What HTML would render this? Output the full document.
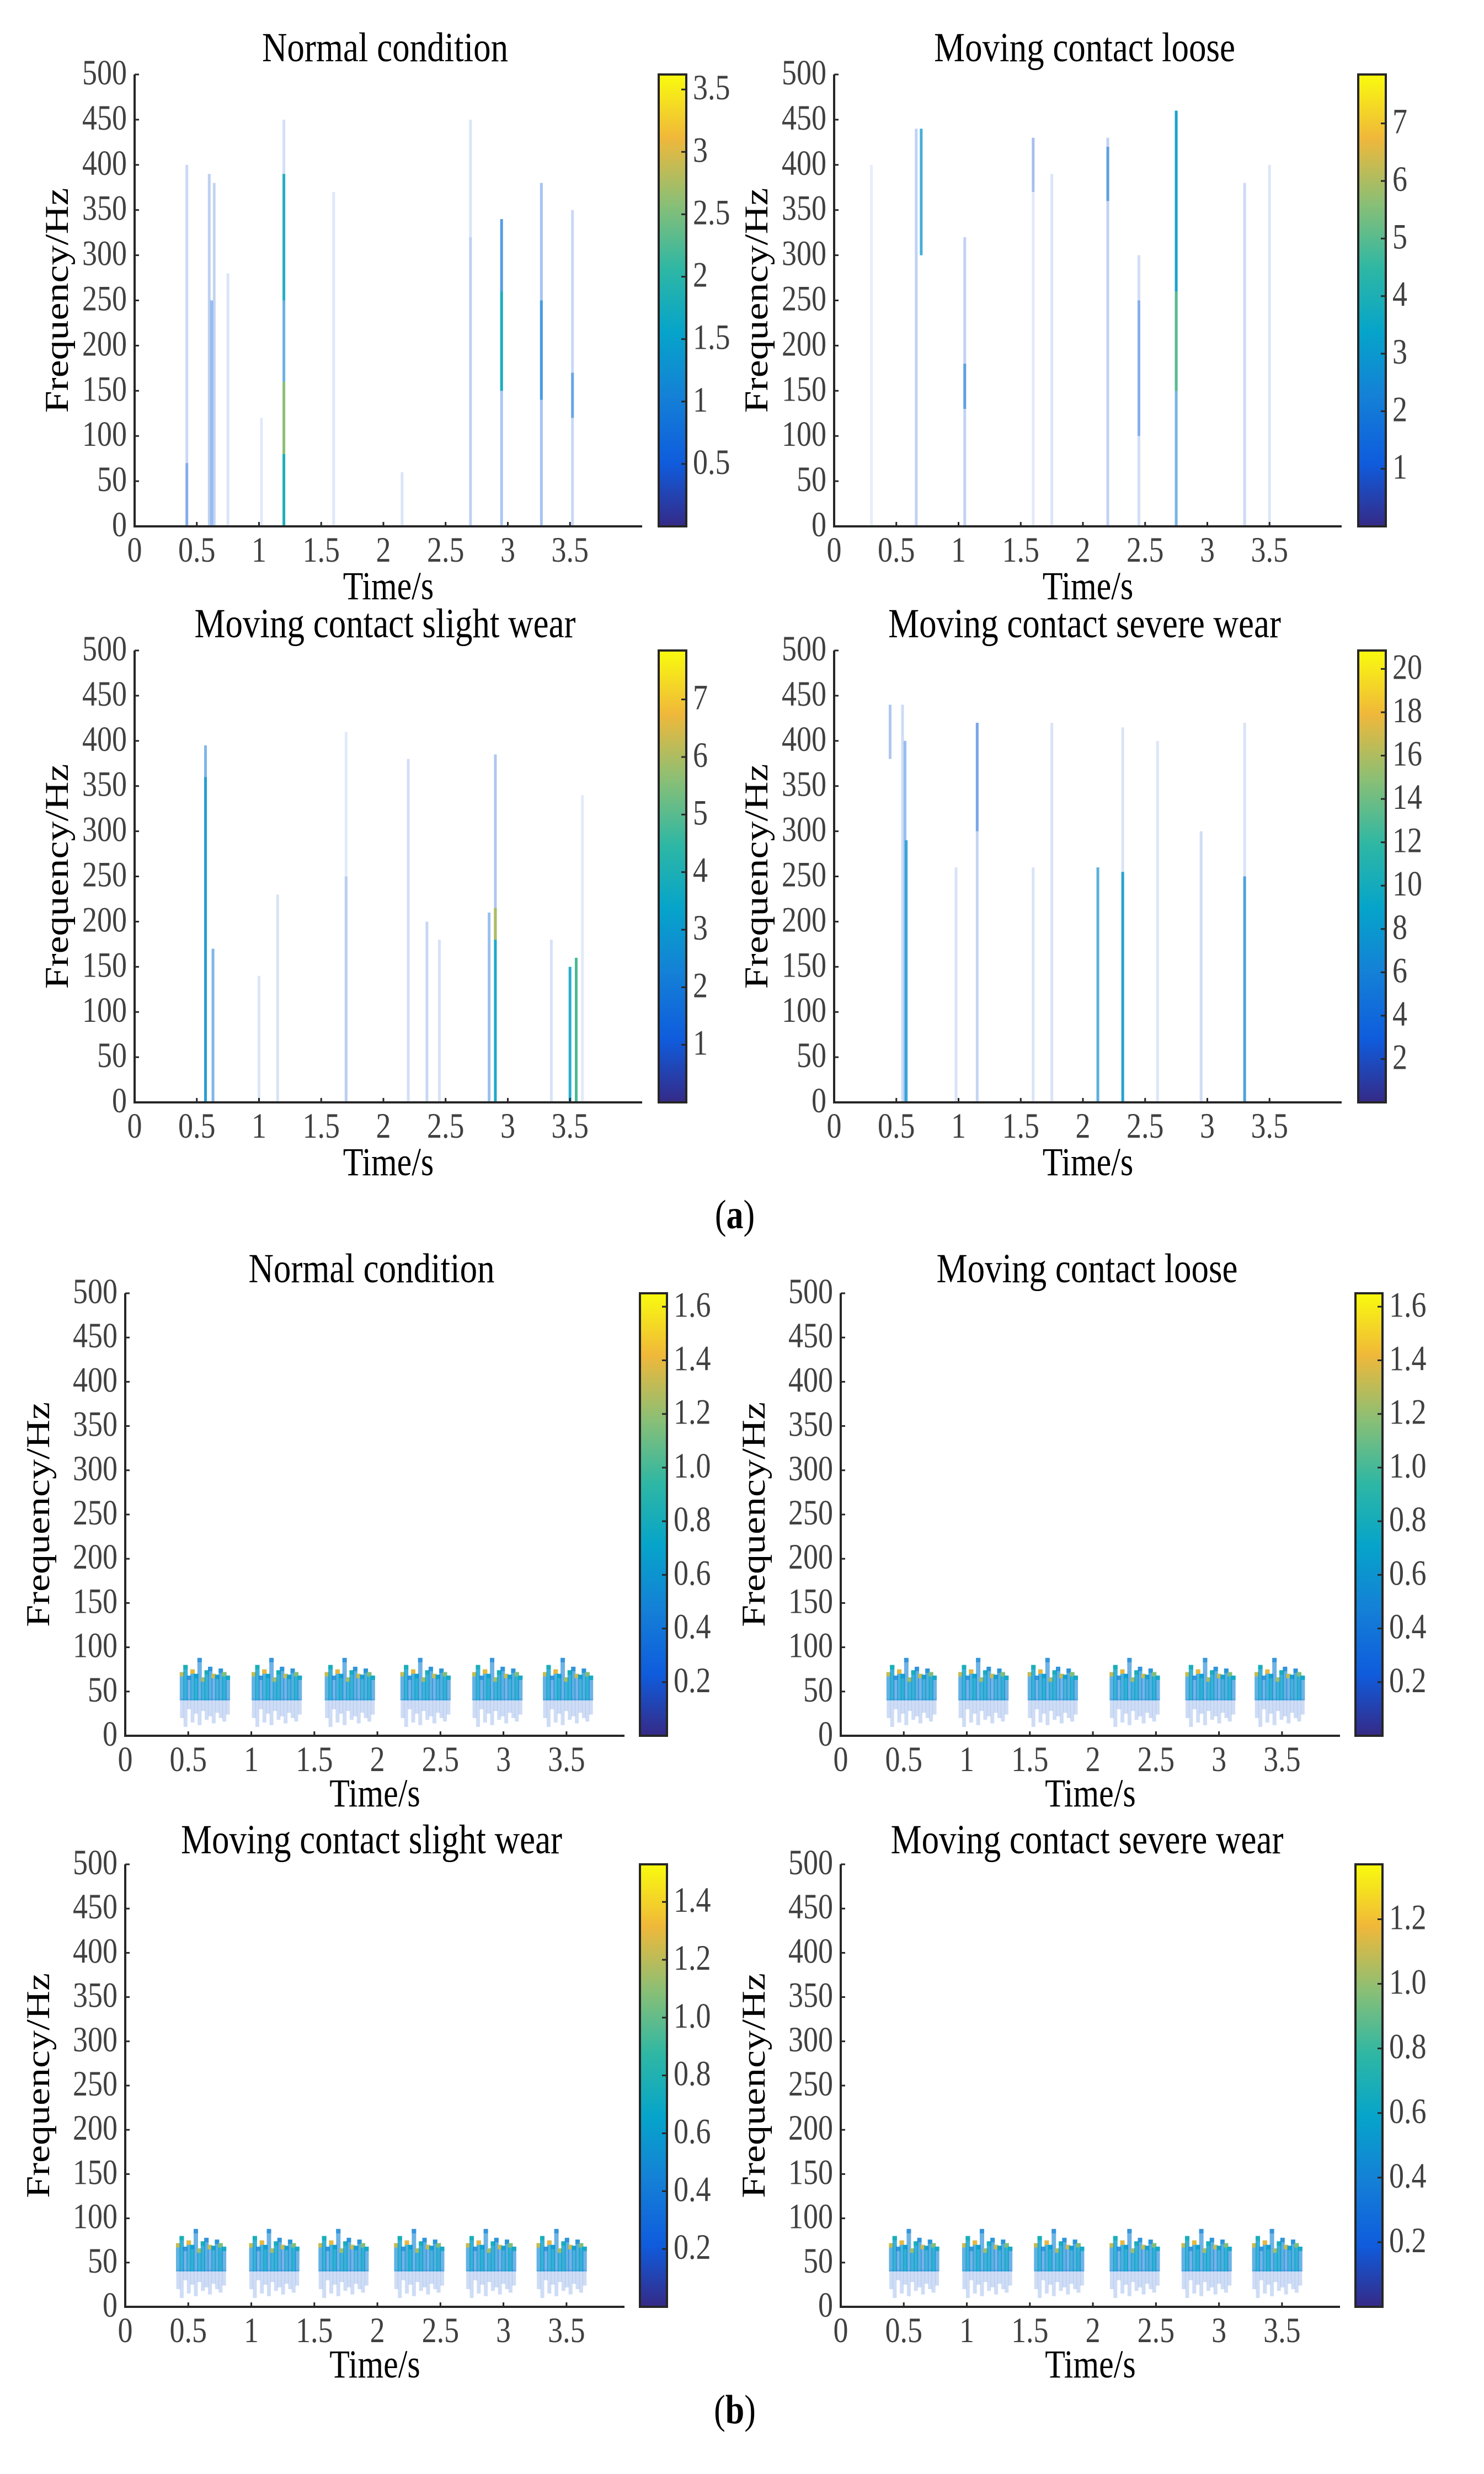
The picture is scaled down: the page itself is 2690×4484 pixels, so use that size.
<!DOCTYPE html>
<html><head><meta charset="utf-8">
<style>
html,body{margin:0;padding:0;background:#fff;}
svg{display:block;}
text{font-family:"Liberation Serif",serif;}
</style></head>
<body>
<svg id="fig" xmlns="http://www.w3.org/2000/svg" width="2690" height="4484" viewBox="0 0 2690 4484">
<defs>
<linearGradient id="parula" x1="0" y1="1" x2="0" y2="0">
<stop offset="0" stop-color="#352A87"/><stop offset="0.14" stop-color="#0F5CDD"/><stop offset="0.29" stop-color="#1481D6"/><stop offset="0.43" stop-color="#06A4CA"/><stop offset="0.57" stop-color="#2EB7A4"/><stop offset="0.71" stop-color="#87BF77"/><stop offset="0.86" stop-color="#F0B83A"/><stop offset="1" stop-color="#F9FB0E"/>
</linearGradient>
</defs>
</svg>
<script>
// ---------- data ----------
const panelTitles = ["Normal condition","Moving contact loose","Moving contact slight wear","Moving contact severe wear","Normal condition","Moving contact loose","Moving contact slight wear","Moving contact severe wear"];
const yTicks = [0,50,100,150,200,250,300,350,400,450,500];
const xTicks = [0,0.5,1,1.5,2,2.5,3,3.5];
const xTickLabels = ["0","0.5","1","1.5","2","2.5","3","3.5"];
const cbMax = [3.62,7.85,7.85,20.85,1.65,1.65,1.53,1.37];
const cbTicksA1 = [0.5,1,1.5,2,2.5,3,3.5];
const cbLabelsA1 = ["0.5","1","1.5","2","2.5","3","3.5"];
const cbTicksA2 = [1,2,3,4,5,6,7];
const cbTicksA4 = [2,4,6,8,10,12,14,16,18,20];
const cbTicksB1 = [0.2,0.4,0.6,0.8,1.0,1.2,1.4,1.6];
const cbLabelsB1 = ["0.2","0.4","0.6","0.8","1.0","1.2","1.4","1.6"];
const cbTicksB3 = [0.2,0.4,0.6,0.8,1.0,1.2,1.4];
const cbTicksB4 = [0.2,0.4,0.6,0.8,1.0,1.2];
// streaks for (a): [time s, fLow Hz, fHigh Hz, value]
const streaksA1 = [[0.42,0,400,0.3],[0.42,0,70,0.6],[0.6,0,390,0.4],[0.62,0,250,0.7],[0.64,0,380,0.35],[0.75,0,280,0.15],[1.02,0,120,0.1],[1.2,0,80,1.8],[1.2,80,160,2.6],[1.2,160,250,1.1],[1.2,250,390,1.7],[1.2,390,450,0.2],[1.6,0,370,0.12],[2.15,0,60,0.15],[2.7,0,320,0.4],[2.7,320,450,0.15],[2.95,0,340,0.55],[2.95,150,260,1.8],[2.95,260,340,1.0],[3.27,0,380,0.6],[3.27,140,250,1.1],[3.52,0,350,0.3],[3.52,120,170,0.9]];
const streaksA2 = [[0.3,0,400,0.1],[0.66,0,440,0.8],[0.7,300,440,3],[1.05,0,320,0.8],[1.05,130,180,2.2],[1.6,0,430,0.2],[1.6,370,430,0.9],[1.75,0,390,0.3],[2.2,0,430,0.8],[2.2,360,420,2.2],[2.45,0,300,0.5],[2.45,100,250,1.3],[2.75,0,460,2.2],[2.75,150,260,5],[2.75,260,460,3.2],[3.3,0,380,0.6],[3.5,0,400,0.3]];
const streaksA3 = [[0.57,0,395,2],[0.57,0,360,3.0],[0.63,0,170,2],[1.0,0,140,0.3],[1.15,0,230,0.4],[1.7,0,410,0.2],[1.7,0,250,0.5],[2.2,0,380,0.5],[2.35,0,200,0.7],[2.45,0,180,0.4],[2.85,0,210,1.5],[2.9,0,385,1.1],[2.9,0,215,3.5],[2.9,180,215,6],[3.35,0,180,0.4],[3.5,0,150,3.5],[3.55,0,160,4.8],[3.6,0,340,0.2]];
const streaksA4 = [[0.45,380,440,3],[0.55,0,440,1.5],[0.57,0,400,4],[0.58,0,290,8],[0.98,0,260,1],[1.15,0,420,2],[1.15,300,420,4],[1.6,0,260,1],[1.75,0,420,1],[2.12,0,260,7],[2.32,0,255,9],[2.32,0,415,1],[2.6,0,400,0.8],[2.95,0,300,1.5],[3.3,0,250,7],[3.3,0,420,1]];
// (b) groups: start times, and per-streak top frequency / relative value
const groupsB1 = [0.45,1.02,1.6,2.2,2.77,3.33];
const groupsB2 = [0.38,0.95,1.5,2.15,2.75,3.3];
const groupsB3 = [0.42,1.0,1.55,2.15,2.72,3.28];
const groupsB4 = [0.4,0.98,1.55,2.15,2.72,3.28];
const bTops = [72,80,68,75,70,88,66,74,78,70,69,76,72,68];
const bVals = [0.32,0.4,0.28,0.36,0.42,0.3,0.38,0.4,0.33,0.28,0.37,0.35,0.41,0.3];
const bCaps = [0.8,0.5,0.3,0.85,0.4,0.3,0.75,0.5,0.3,0.8,0.4,0.3,0.7,0.45];
const bLows = [20,10,30,15,25,12,28,18,22,14,26,20,16,24];

// ---------- helpers ----------
const NS="http://www.w3.org/2000/svg";
const svg=document.getElementById('fig');
function mk(tag,attrs,parent){const e=document.createElementNS(NS,tag);for(const k in attrs)e.setAttribute(k,attrs[k]);(parent||svg).appendChild(e);return e;}
const SY=1.2;
function txt(x,y,s,size,anchor,fill,parent,rot){
  const e=mk('text',{x:0,y:0,'font-size':size,'text-anchor':anchor,fill:fill,transform:rot?`translate(${x},${y}) rotate(-90) scale(${SY},1)`:`translate(${x},${y}) scale(1,${SY})`},parent);
  e.textContent=s;return e;
}
const stops=[[0,[53,42,135]],[0.14,[15,92,221]],[0.29,[20,129,214]],[0.43,[6,164,202]],[0.57,[46,183,164]],[0.71,[135,191,119]],[0.86,[240,184,58]],[1,[249,251,14]]];
function parula(t){t=Math.max(0,Math.min(1,t));for(let i=1;i<stops.length;i++){if(t<=stops[i][0]){const a=stops[i-1],b=stops[i];const u=(t-a[0])/(b[0]-a[0]);const c=a[1].map((v,j)=>Math.round(v+(b[1][j]-v)*u));return `rgb(${c[0]},${c[1]},${c[2]})`;}}return 'rgb(249,251,14)';}

const panels=[
 {ox:244,oy:135,w:920,h:819,xmax:4.08,cbx:1194,cbw:50,ct:cbTicksA1,cl:cbLabelsA1,fl:-143},
 {ox:1512,oy:135,w:920,h:819,xmax:4.08,cbx:2462,cbw:50,ct:cbTicksA2,cl:cbTicksA2.map(String),fl:-143},
 {ox:244,oy:1179,w:920,h:819,xmax:4.08,cbx:1194,cbw:50,ct:cbTicksA2,cl:cbTicksA2.map(String),fl:-143},
 {ox:1512,oy:1179,w:920,h:819,xmax:4.08,cbx:2462,cbw:50,ct:cbTicksA4,cl:cbTicksA4.map(String),fl:-143},
 {ox:227,oy:2344,w:905,h:802,xmax:3.96,cbx:1160,cbw:49,ct:cbTicksB1,cl:cbLabelsB1,fl:-160},
 {ox:1524,oy:2344,w:905,h:802,xmax:3.96,cbx:2457,cbw:49,ct:cbTicksB1,cl:cbLabelsB1,fl:-160},
 {ox:227,oy:3379,w:905,h:802,xmax:3.96,cbx:1160,cbw:49,ct:cbTicksB3,cl:cbLabelsB1.slice(0,7),fl:-160},
 {ox:1524,oy:3379,w:905,h:802,xmax:3.96,cbx:2457,cbw:49,ct:cbTicksB4,cl:cbLabelsB1.slice(0,6),fl:-160}
];
const streakSets=[streaksA1,streaksA2,streaksA3,streaksA4];
const groupSets=[groupsB1,groupsB2,groupsB3,groupsB4];
const names=['a-normal','a-loose','a-slight-wear','a-severe-wear','b-normal','b-loose','b-slight-wear','b-severe-wear'];

panels.forEach((p,pi)=>{
  const g=mk('g',{});
  
  
  const xs=t=>p.ox+t/p.xmax*p.w;
  const ys=f=>p.oy+p.h-f/500*p.h;
  const vmax=cbMax[pi];
  const plot=mk('g',{},g);
  
  
  function streak(t,f0,f1,v,wpx,opScale){
    const r=v/vmax;
    const op=Math.min(1,(0.08+r*1.8)*(opScale||1));
    const s=mk('rect',{x:xs(t)-wpx/2,y:ys(f1),width:wpx,height:ys(f0)-ys(f1),fill:parula(r<0.15?0.12:r),'fill-opacity':op},plot);
    
    
  }
  if(pi<4){
    streakSets[pi].forEach(d=>streak(d[0],d[1],d[2],d[3],5));
  } else {
    const grp=groupSets[pi-4];
    const step=0.028;
    grp.forEach(gs=>{
      bTops.forEach((top,i)=>{
        const t=gs+i*step;
        streak(t,bLows[i],42,vmax*0.1,7,0.8);
        streak(t,40,top,vmax*bVals[i],8);
        streak(t,top-5,top,vmax*bCaps[i],8);
      });
    });
  }
  // axes
  const ax=mk('path',{d:`M${p.ox} ${p.oy} V${p.oy+p.h} H${p.ox+p.w}`,stroke:'#262626','stroke-width':4,fill:'none'},g);
  
  
  yTicks.forEach(v=>{
    mk('line',{x1:p.ox,x2:p.ox+8,y1:ys(v),y2:ys(v),stroke:'#262626','stroke-width':3},g);
    const l=txt(p.ox-14,ys(v)+18,String(v),54,'end','#404040',g);
    
    
  });
  xTicks.forEach((v,i)=>{
    mk('line',{x1:xs(v),x2:xs(v),y1:p.oy+p.h,y2:p.oy+p.h-8,stroke:'#262626','stroke-width':3},g);
    const l=txt(xs(v),p.oy+p.h+64,xTickLabels[i],54,'middle','#404040',g);
    
    
  });
  const xt=txt(p.ox+p.w/2,p.oy+p.h+(pi<4?132:128),'Time/s',60,'middle','#000',g);
  
  
  const yt=txt(p.ox+p.fl+22,p.oy+p.h/2,'Frequency/Hz',60,'middle','#000',g,true);
  
  
  const tt=txt(p.ox+p.w/2-6,p.oy-(pi<4?24:20),panelTitles[pi],63,'middle','#000',g);
  
  
  // colorbar
  const cb=mk('rect',{x:p.cbx,y:p.oy,width:p.cbw,height:p.h,fill:'url(#parula)',stroke:'#262626','stroke-width':4},g);
  
  
  const cy=v=>p.oy+p.h-v/vmax*p.h;
  p.ct.forEach((v,i)=>{
    mk('line',{x1:p.cbx+p.cbw-9,x2:p.cbx+p.cbw,y1:cy(v),y2:cy(v),stroke:'#262626','stroke-width':3},g);
    const l=txt(p.cbx+p.cbw+12,cy(v)+18,p.cl[i],54,'start','#404040',g);
    
    
  });
});
const la=txt(1332,2226,'(a)',62,'middle','#000');
la.innerHTML='(<tspan font-weight="bold">a</tspan>)';


const lb=txt(1332,4392,'(b)',62,'middle','#000');
lb.innerHTML='(<tspan font-weight="bold">b</tspan>)';


</script>
</body></html>
